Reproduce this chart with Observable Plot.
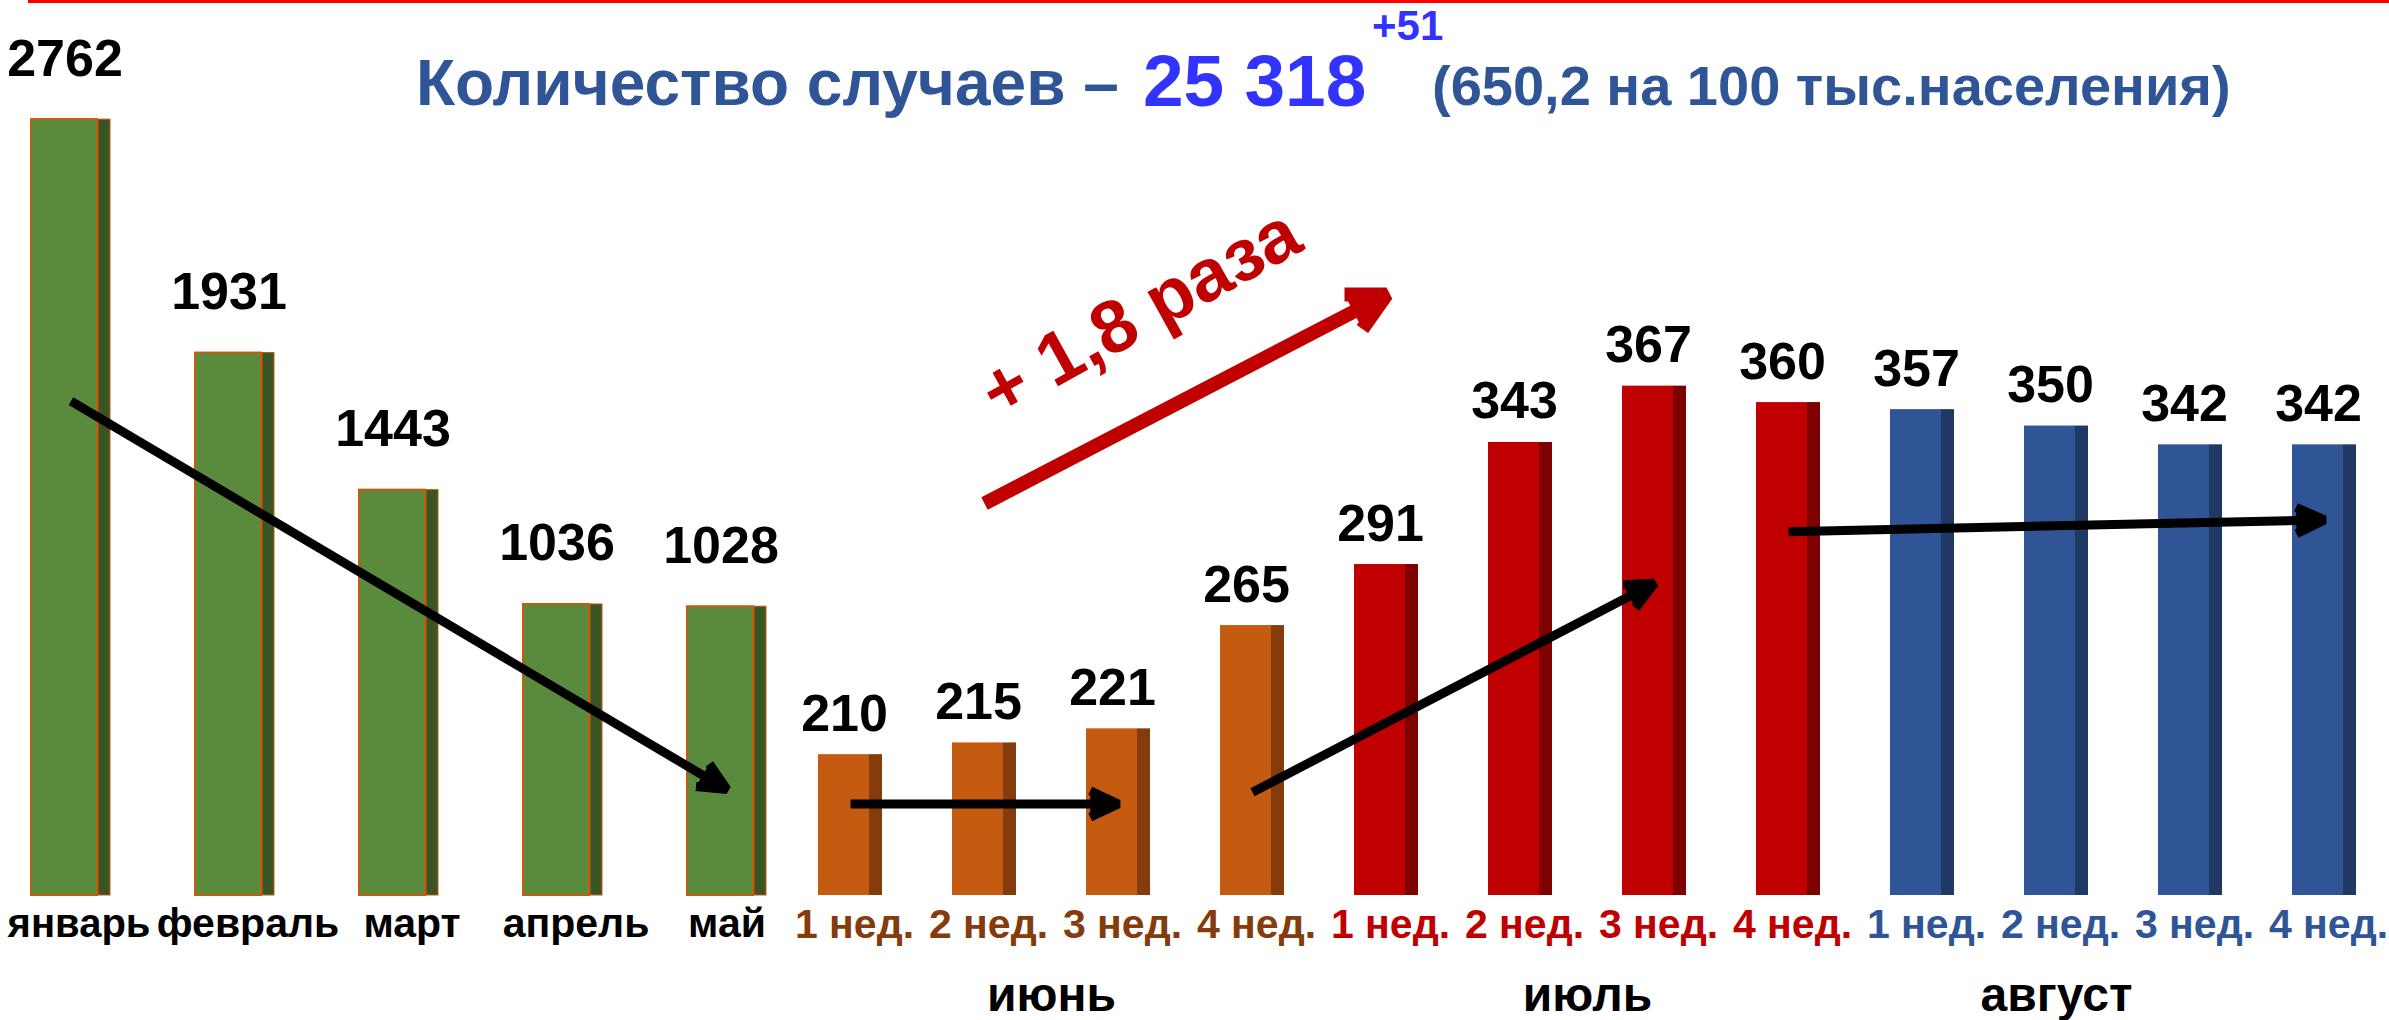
<!DOCTYPE html>
<html>
<head>
<meta charset="utf-8">
<script src="https://cdn.jsdelivr.net/npm/d3@7"></script>
<script src="https://cdn.jsdelivr.net/npm/@observablehq/plot@0.6"></script>
<style>
  html, body { margin: 0; padding: 0; background: #ffffff; }
  #wrap { position: relative; width: 2389px; height: 1020px; overflow: hidden; background: #ffffff;
          font-family: "Liberation Sans", Arial, sans-serif; font-weight: bold; }
  #wrap svg { position: absolute; left: 0; top: 0; }
  .t { position: absolute; white-space: nowrap; line-height: 1; }
  #rule { position: absolute; left: 28px; right: 0; top: 0; height: 3px; background: #ff0000; }
</style>
</head>
<body>
<div id="wrap">
  <div id="rule"></div>
  <div class="t" style="left:416px; top:51px; font-size:64px; color:#2F5597;">Количество случаев –</div>
  <div class="t" style="left:1143px; top:44px; font-size:73px; color:#3333FF;">25 318</div>
  <div class="t" style="left:1372px; top:5px; font-size:42px; color:#3333FF;">+51</div>
  <div class="t" style="left:1432px; top:58px; font-size:56px; color:#2F5597;">(650,2 на 100 тыс.населения)</div>
</div>
<script>
// ---------------- data ----------------
const months = ["январь", "февраль", "март", "апрель", "май"];
const monthCases = [2762, 1931, 1443, 1036, 1028];

const summerMonths = ["июнь", "июль", "август"];
const weekLabels = ["1 нед.", "2 нед.", "3 нед.", "4 нед."];
const weeklyCases = [210, 215, 221, 265, 291, 343, 367, 360, 357, 350, 342, 342];

// trend arrows (category + value at each end)
const monthTrend = [{ from: "январь", v1: 1760, to: "май", v2: 377 }];
const weekTrends = [
  { from: "июнь 1 нед.", v1: 189, to: "июнь 3 нед.", v2: 189 },
  { from: "июнь 4 нед.", v1: 194, to: "июль 3 нед.", v2: 283 },
  { from: "июль 4 нед.", v1: 305, to: "август 4 нед.", v2: 310 }
];
const growthArrow = [{ from: "июнь 2 нед.", v1: 317, to: "июль 1 нед.", v2: 406 }];
const growthLabel = [{ at: "июнь 3 нед.", v: 398, text: "+ 1,8 раза" }];

// ---------------- styles ----------------
const FONT = "Liberation Sans, Arial, sans-serif";
const groupFront = { "июнь": "#C55A11", "июль": "#C00000", "август": "#2F5597" };
const groupSide  = { "июнь": "#843C0C", "июль": "#7F0000", "август": "#203864" };
const groupText  = { "июнь": "#843C0C", "июль": "#C00000", "август": "#2F5597" };

const monthData = months.map((m, i) => ({ month: m, value: monthCases[i] }));
const weekData = weeklyCases.map((v, i) => {
  const g = summerMonths[Math.floor(i / 4)];
  const w = weekLabels[i % 4];
  return { key: g + " " + w, group: g, week: w, value: v };
});
const weekKeys = weekData.map(d => d.key);

const W = 2389, H = 1020, BASE = 895;
const wrap = document.getElementById("wrap");
const arrowStyle = { strokeLinejoin: "miter", strokeLinecap: "butt" };

// ---------------- months plot ----------------
const monthPlot = Plot.plot({
  width: W, height: H,
  marginTop: 0, marginRight: 0, marginBottom: 0, marginLeft: 0,
  style: { background: "transparent", fontFamily: FONT, overflow: "visible" },
  x: { type: "band", domain: months, range: [29, 768], paddingInner: 0.516, paddingOuter: 0, axis: null },
  y: { domain: [0, 3186], range: [BASE, 0], axis: null },
  marks: [
    Plot.barY(monthData, { x: "month", y: "value", fill: "#5A8A3B", stroke: "#C55A11", strokeWidth: 2, insetRight: 13 }),
    Plot.barY(monthData, { x: "month", y: "value", fill: "#3A5524", stroke: "#C55A11", strokeWidth: 1, insetLeft: 67 }),
    Plot.arrow(monthTrend, { x1: "from", y1: "v1", x2: "to", y2: "v2", stroke: "black", fill: "black",
      strokeWidth: 9, headLength: 5.2, headAngle: 50, ...arrowStyle }),
    Plot.text(monthData, { x: "month", y: "value", text: d => String(d.value), dx: -6, dy: -44, lineAnchor: "bottom",
      fontSize: 52, fontWeight: "bold", fill: "black" }),
    Plot.text(monthData.slice(0, 1), { x: "month", y: 0, text: "month", dx: 8, dy: 41, lineAnchor: "bottom",
      fontSize: 40, fontWeight: "bold", fill: "black" }),
    Plot.text(monthData.slice(1, 4), { x: "month", y: 0, text: "month", dx: 13, dy: 41, lineAnchor: "bottom",
      fontSize: 41, fontWeight: "bold", fill: "black" }),
    Plot.text(monthData.slice(4), { x: "month", y: 0, text: "month", dx: 0, dy: 41, lineAnchor: "bottom",
      fontSize: 41, fontWeight: "bold", fill: "black" })
  ]
});
wrap.appendChild(monthPlot);

// ---------------- weeks plot ----------------
const weekPlot = Plot.plot({
  width: W, height: H,
  marginTop: 0, marginRight: 0, marginBottom: 0, marginLeft: 0,
  style: { background: "transparent", fontFamily: FONT, overflow: "visible" },
  x: { type: "band", domain: weekKeys, range: [816, 2358], paddingInner: 0.524, paddingOuter: 0, axis: null },
  y: { domain: [150, 531.3], range: [BASE, 0], axis: null },
  color: { type: "identity" },
  marks: [
    Plot.barY(weekData, { x: "key", y1: 150, y2: "value", fill: d => groupFront[d.group], insetRight: 13 }),
    Plot.barY(weekData, { x: "key", y1: 150, y2: "value", fill: d => groupSide[d.group], insetLeft: 51 }),
    Plot.arrow(weekTrends, { x1: "from", y1: "v1", x2: "to", y2: "v2", stroke: "black", fill: "black",
      strokeWidth: 9, headLength: 5.2, headAngle: 50, ...arrowStyle }),
    Plot.arrow(growthArrow, { x1: "from", y1: "v1", x2: "to", y2: "v2", stroke: "#C00000", fill: "#C00000",
      strokeWidth: 14, headLength: 4.5, headAngle: 55, ...arrowStyle }),
    Plot.text(growthLabel, { x: "at", y: "v", text: "text", dx: 22, rotate: -29, fontSize: 74, fontWeight: "bold", fill: "#C00000" }),
    Plot.text(weekData, { x: "key", y: "value", text: d => String(d.value), dx: -6, dy: -24, lineAnchor: "bottom",
      fontSize: 52, fontWeight: "bold", fill: "black" }),
    Plot.text(weekData, { x: "key", y: 150, text: "week", dx: 4, dy: 42, lineAnchor: "bottom",
      fontSize: 41, fontWeight: "bold", fill: d => groupText[d.group] }),
    Plot.text(summerMonths.filter(g => g !== "август"), { x: g => g + " 2 нед.", y: 150, text: d => d, dx: 67, dy: 115,
      lineAnchor: "bottom", fontSize: 48, fontWeight: "bold", fill: "black" }),
    Plot.text(["август"], { x: g => g + " 2 нед.", y: 150, text: d => d, dy: 115,
      lineAnchor: "bottom", fontSize: 48, fontWeight: "bold", fill: "black" })
  ]
});
wrap.appendChild(weekPlot);
</script>
</body>
</html>
